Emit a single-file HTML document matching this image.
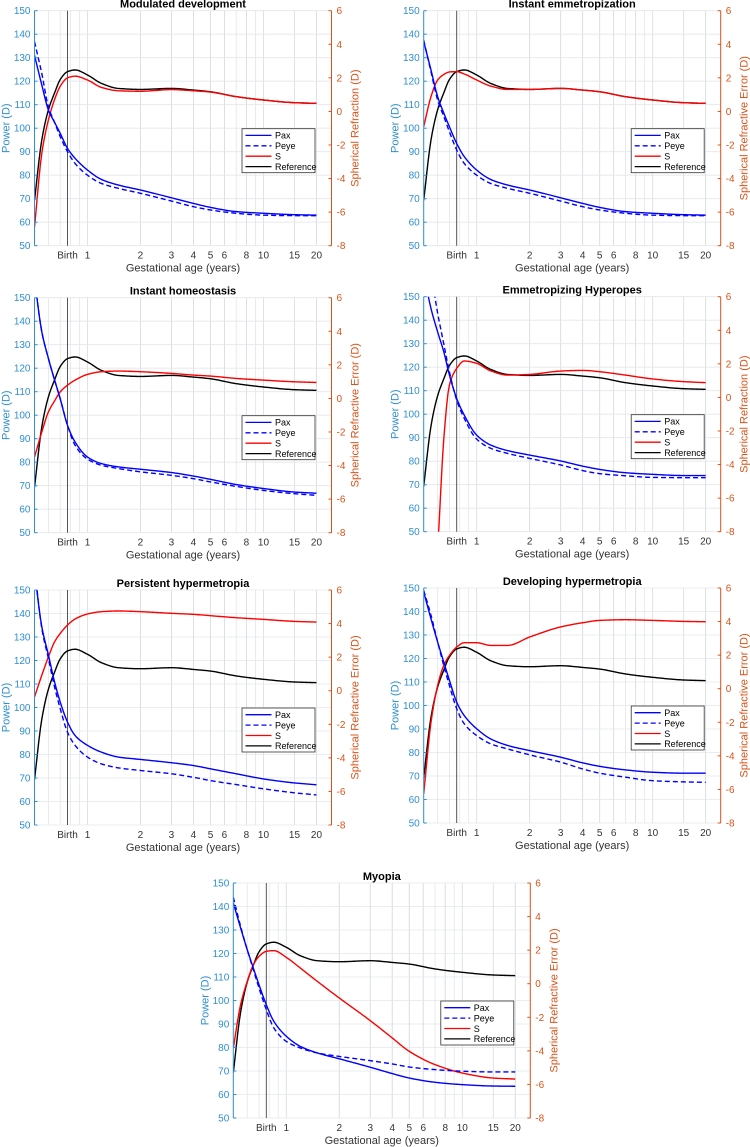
<!DOCTYPE html>
<html><head><meta charset="utf-8">
<style>
html,body{margin:0;padding:0;background:#fff;}
svg{display:block;font-family:"Liberation Sans",Arial,sans-serif;}
</style></head>
<body>
<svg id="fig" width="750" height="1147" viewBox="0 0 750 1147" xmlns="http://www.w3.org/2000/svg"></svg>
<script>
const ages = [0.5,0.55,0.6,0.65,0.7,0.77,0.85,1,1.2,1.5,2,3,4,5,7,10,15,20];
const ref = [-5.3,-1.7,0.1,1.1,1.9,2.37,2.47,2.17,1.67,1.37,1.31,1.37,1.27,1.17,0.88,0.68,0.52,0.48];
const pax1 = [131,118.4,107.7,102.5,97.8,91.4,87.2,82.2,78.2,75.8,73.7,70.4,68,66.3,64.5,63.8,63.2,63];
const peye1 = [136.8,123.3,109,102.5,96.4,90,85,80,76.5,74.4,72.3,69,66.6,65.2,63.8,63,62.8,62.8];
const s1 = [-6.9,-2.5,-0.5,0.7,1.5,2.0,2.1,1.87,1.43,1.23,1.2,1.3,1.23,1.15,0.88,0.68,0.52,0.48];
const pax2 = [136.8,124.8,113.4,106.5,100.6,93.5,87.9,82.2,78.2,75.8,73.7,70.4,68,66.3,64.5,63.8,63.2,63];
const peye2 = [137.5,124,112,105,98.5,90.7,85,80,76.5,74.4,72.3,69,66.6,65.2,63.8,63,62.8,62.8];
const s2 = [-0.91,0.88,1.87,2.2,2.35,2.37,2.23,1.87,1.51,1.31,1.31,1.37,1.27,1.17,0.88,0.68,0.52,0.48];
const pax3 = [158,135.5,124.1,115,107,95.7,88.6,82.2,79.4,78,77,75.6,74.1,72.7,70.5,68.8,67.3,66.8];
const peye3 = [158,135.5,124.1,115,107,95.7,87.2,81.3,78.7,77.3,75.9,74.4,73,71.6,69.7,68,66.6,65.9];
const s3 = [-3.49,-2.0,-0.8,-0.15,0.39,0.79,1.09,1.43,1.59,1.63,1.59,1.49,1.39,1.33,1.19,1.09,0.99,0.95];
const pax4 = [160,145,135,126.6,116.7,106.7,99.6,91.1,86.9,84.5,82.6,80.1,77.9,76.5,75.1,74.4,73.9,73.9];
const peye4 = [175,160,143,130,118,106,98.2,89.4,85.5,83.3,81.2,78.4,76,74.7,73.8,73.1,73,73];
const s4 = [-18,-14,-9,-2.5,0.74,1.73,2.17,2.03,1.58,1.33,1.37,1.57,1.61,1.53,1.33,1.1,0.94,0.88];
const pax5 = [158,134.4,122.3,110.9,102.3,93.8,88.1,83.9,81,78.9,77.9,76.5,75.3,73.9,71.8,69.6,67.9,67.1];
const peye5 = [160,133.6,120.8,108.7,99.5,89.5,83.9,78.9,76,74.3,73.2,71.8,70.3,68.9,67.2,65.4,63.7,62.8];
const s5 = [-0.37,0.92,2.02,2.91,3.41,3.91,4.27,4.57,4.71,4.75,4.71,4.61,4.55,4.47,4.35,4.25,4.13,4.09];
const pax6 = [148.3,136.9,127,118.5,110.7,101.4,95.7,90.1,85.8,83,80.8,78,75.6,74.1,72.6,71.6,71.2,71.2];
const peye6 = [149,138.4,127,117,108.5,98.6,92.2,87.2,83.7,81.5,79,75.9,73,71.2,69.5,68,67.5,67.3];
const s6 = [-6.27,-2.0,0.19,1.39,1.98,2.48,2.74,2.74,2.58,2.58,3.08,3.68,3.93,4.07,4.11,4.07,4.01,3.99];
const pax7 = [141.5,130.9,121.6,113.8,106.7,98.2,91.1,84.8,80.5,77.7,75.2,71.6,68.9,67,65.2,64.2,63.6,63.5];
const peye7 = [143.9,131.6,121.6,113.1,105.3,96.1,88.3,82.6,79.8,77.7,76.2,74.4,73,71.7,70.6,69.9,69.6,69.6];
const s7 = [-3.83,-1.25,0.14,1.13,1.63,1.93,1.97,1.57,0.94,0.14,-0.85,-2.2,-3.23,-4.03,-4.82,-5.32,-5.62,-5.68];
const xTickVals = [1,2,3,4,5,6,8,10,15,20];
const xTickLabels = ["1","2","3","4","5","6","8","10","15","20"];
const leftTicks = [50,60,70,80,90,100,110,120,130,140,150];
const rightTicks = [-8,-6,-4,-2,0,2,4,6];
const birthAge = 0.77;
const minorGrid = [0.5,0.6,0.7,0.8,0.9,2,3,4,5,6,7,8,9,20];
const titles = ["Modulated development","Instant emmetropization","Instant homeostasis","Emmetropizing Hyperopes","Persistent hypermetropia","Developing hypermetropia","Myopia"];
const rightLabels = ["Spherical Refraction (D)","Spherical Refractive Error (D)","Spherical Refractive Error (D)","Spherical Refraction (D)","Spherical Refractive Error (D)","Spherical Refractive Error (D)","Spherical Refractive Error (D)"];
const paxSeries = [pax1,pax2,pax3,pax4,pax5,pax6,pax7];
const peyeSeries = [peye1,peye2,peye3,peye4,peye5,peye6,peye7];
const sSeries = [s1,s2,s3,s4,s5,s6,s7];

const panelPos = [[34.5,10.7],[423.7,10.7],[34.5,297.7],[423.7,296.7],[34.5,590],[423.7,588],[233.3,883]];
const W = 297, H = 235;
const NS = "http://www.w3.org/2000/svg";
const svg = document.getElementById('fig');
const LC = "#2f8fd0", RC = "#d95319";
const lx0 = Math.log10(0.5), lx1 = Math.log10(0.5) + W/176;

function mk(tag, attrs, parent){
  const e = document.createElementNS(NS, tag);
  for (const k in attrs) e.setAttribute(k, attrs[k]);
  (parent||svg).appendChild(e);
  return e;
}
function txt(parent, x, y, s, attrs){
  const t = mk('text', Object.assign({x:x, y:y}, attrs), parent);
  t.textContent = s;
  return t;
}
// monotone cubic (Fritsch-Carlson) in pixel space, sampled densely
function smoothPath(pts){
  const n = pts.length;
  const xs = pts.map(p=>p[0]), ys = pts.map(p=>p[1]);
  const h = [], d = [];
  for (let i=0;i<n-1;i++){ h[i]=xs[i+1]-xs[i]; d[i]=(ys[i+1]-ys[i])/h[i]; }
  const m = new Array(n);
  m[0]=d[0]; m[n-1]=d[n-2];
  for (let i=1;i<n-1;i++){
    if (d[i-1]*d[i] <= 0) m[i]=0;
    else { const w1=2*h[i]+h[i-1], w2=h[i]+2*h[i-1]; m[i]=(w1+w2)/(w1/d[i-1]+w2/d[i]); }
  }
  let out = "M" + xs[0].toFixed(2) + "," + ys[0].toFixed(2);
  for (let i=0;i<n-1;i++){
    const steps = Math.max(2, Math.ceil(h[i]/1.5));
    for (let k=1;k<=steps;k++){
      const t=k/steps, t2=t*t, t3=t2*t;
      const y = (2*t3-3*t2+1)*ys[i] + (t3-2*t2+t)*h[i]*m[i] + (-2*t3+3*t2)*ys[i+1] + (t3-t2)*h[i]*m[i+1];
      out += " L" + (xs[i]+t*h[i]).toFixed(2) + "," + y.toFixed(2);
    }
  }
  return out;
}

for (let p = 0; p < 7; p++){
  const L = panelPos[p][0], T = panelPos[p][1];
  const xs = a => L + (Math.log10(a) - lx0) / (lx1 - lx0) * W;
  const yl = v => T + H - (v - 50) / 100 * H;
  const yr = v => T + H - (v + 8) / 14 * H;
  const g = mk('g', {});
  
  
  const clipId = 'clip' + p;
  const cp = mk('clipPath', {id: clipId}, g);
  mk('rect', {x:L, y:T, width:W, height:H}, cp);
  const grid = mk('g', {stroke:'#e3e6ea', 'stroke-width':0.8}, g);
  
  
  minorGrid.forEach(a => { const x = xs(a); mk('line', {x1:x, x2:x, y1:T, y2:T+H}, grid); });
  xTickVals.forEach(a => { const x = xs(a); mk('line', {x1:x, x2:x, y1:T, y2:T+H, stroke:'#d8dce0'}, grid); });
  leftTicks.forEach(v => { const y = yl(v); mk('line', {x1:L, x2:L+W, y1:y, y2:y}, grid); });
  const bl = mk('line', {x1:xs(birthAge), x2:xs(birthAge), y1:T, y2:T+H, stroke:'#444', 'stroke-width':0.9}, g);
  
  
  const cg = mk('g', {'clip-path':'url(#'+clipId+')', fill:'none'}, g);
  const refPath = mk('path', {d: smoothPath(ages.map((a,i)=>[xs(a), yr(ref[i])])), stroke:'#000', 'stroke-width':1.4}, cg);
  
  
  const sPath = mk('path', {d: smoothPath(ages.map((a,i)=>[xs(a), yr(sSeries[p][i])])), stroke:'#ff0000', 'stroke-width':1.4}, cg);
  
  
  const paxPath = mk('path', {d: smoothPath(ages.map((a,i)=>[xs(a), yl(paxSeries[p][i])])), stroke:'#0000ff', 'stroke-width':1.4}, cg);
  
  
  const peyePath = mk('path', {d: smoothPath(ages.map((a,i)=>[xs(a), yl(peyeSeries[p][i])])), stroke:'#0000ff', 'stroke-width':1.4, 'stroke-dasharray':'5,3'}, cg);
  
  
  const la = mk('line', {x1:L, x2:L, y1:T, y2:T+H, stroke:LC, 'stroke-width':1}, g);
  
  
  const ra = mk('line', {x1:L+W, x2:L+W, y1:T, y2:T+H, stroke:RC, 'stroke-width':1}, g);
  
  
  leftTicks.forEach(v => {
    const y = yl(v);
    mk('line', {x1:L, x2:L+3, y1:y, y2:y, stroke:LC}, g);
    const t = txt(g, L-4, y+3.5, String(v), {'font-size':10, fill:LC, 'text-anchor':'end'});
    
    
  });
  rightTicks.forEach(v => {
    const y = yr(v);
    mk('line', {x1:L+W-3, x2:L+W, y1:y, y2:y, stroke:RC}, g);
    const t = txt(g, L+W+5, y+3.5, String(v), {'font-size':10, fill:RC});
    
    
  });
  xTickVals.forEach((a,i) => {
    const x = xs(a);
    const t = txt(g, x, T+H+13, xTickLabels[i], {'font-size':10, fill:'#333', 'text-anchor':'middle'});
    
    
  });
  const bt = txt(g, xs(birthAge), T+H+13, "Birth", {'font-size':10, fill:'#333', 'text-anchor':'middle'});
  
  
  const xl = txt(g, L+W/2, T+H+26, "Gestational age (years)", {'font-size':11, fill:'#333', 'text-anchor':'middle'});
  
  
  const yL = txt(g, 0, 0, "Power (D)", {'font-size':11, fill:LC, 'text-anchor':'middle', transform:'translate('+(L-25)+','+(T+H/2)+') rotate(-90)'});
  
  
  const yR = txt(g, 0, 0, rightLabels[p], {'font-size':11, fill:RC, 'text-anchor':'middle', transform:'translate('+(L+W+27)+','+(T+H/2)+') rotate(-90)'});
  
  
  const tt = txt(g, L+W/2, T-3, titles[p], {'font-size':11, 'font-weight':'bold', fill:'#000', 'text-anchor':'middle'});
  
  
  const lg = mk('g', {}, g);
  
  
  const lx = L + 207.5, ly = T + 118;
  mk('rect', {x:lx, y:ly, width:73, height:44, fill:'#fff', stroke:'#333', 'stroke-width':0.8}, lg);
  const entries = [["Pax","#0000ff",null],["Peye","#0000ff","5,3"],["S","#ff0000",null],["Reference","#000",null]];
  entries.forEach((e,i) => {
    const yy = ly + 6.7 + i*10.4;
    const ln = mk('line', {x1:lx+3.5, x2:lx+29.5, y1:yy, y2:yy, stroke:e[1], 'stroke-width':1.3}, lg);
    if (e[2]) ln.setAttribute('stroke-dasharray', e[2]);
    const t = txt(lg, lx+33, yy+3.3, e[0], {'font-size':9, fill:'#000'});
    
    
  });
}
</script>
</body></html>
